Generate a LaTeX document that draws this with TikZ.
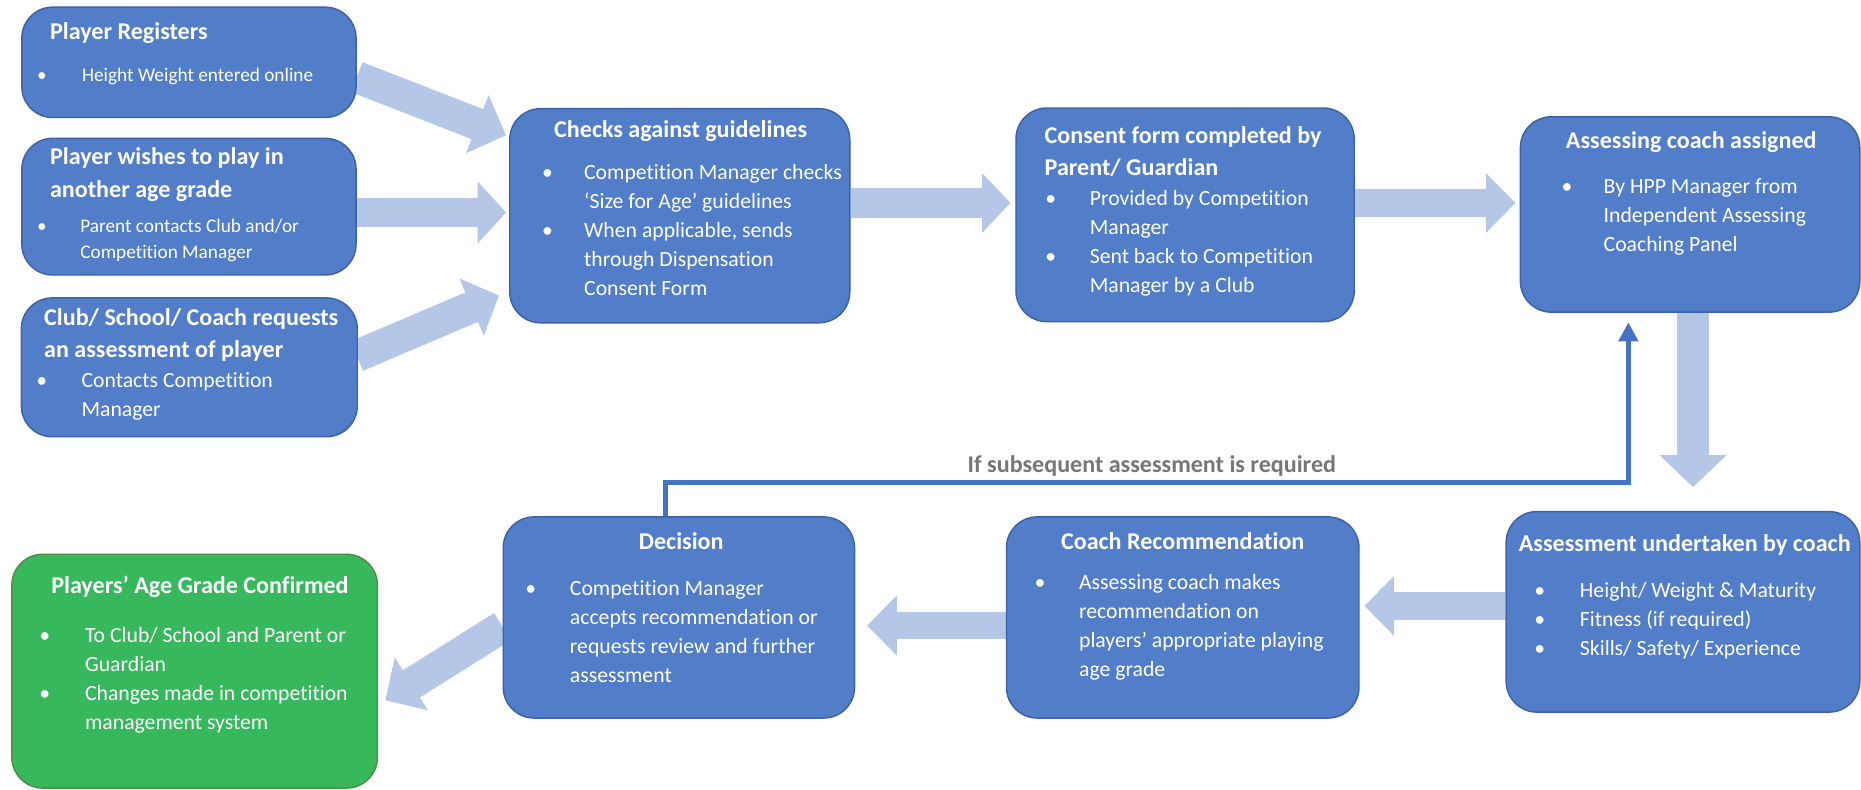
\documentclass[tikz,border=0pt]{standalone}
\usepackage{fontspec}
\setmainfont{Carlito}[RawFeature=-liga]
\usetikzlibrary{arrows.meta,calc,backgrounds}
\definecolor{boxblue}{RGB}{82,125,200}
\definecolor{boxedge}{RGB}{60,98,165}
\definecolor{boxgreen}{RGB}{55,184,93}
\definecolor{greenedge}{RGB}{80,140,70}
\definecolor{arrowblue}{RGB}{180,199,231}
\definecolor{fbblue}{RGB}{68,114,196}
\definecolor{lblgray}{RGB}{118,118,118}
\newcommand{\blist}[2]{\begin{tabular}[t]{@{}p{#1}@{}l@{}}#2\end{tabular}}
\newcommand{\tlist}[1]{\begin{tabular}[t]{@{}l@{}}#1\end{tabular}}
\begin{document}
\begin{tikzpicture}[x=1pt,y=-1pt,
  box/.style={draw=boxedge, line width=1.2pt, fill=boxblue, rounded corners=26pt, inner sep=0pt},
  gbox/.style={box, draw=greenedge, fill=boxgreen},
  ttl/.style={text=white, inner sep=0pt, font=\bfseries\fontsize{20.3}{27.6}\selectfont},
  bod/.style={text=white, inner sep=0pt, font=\fontsize{18.3}{24.5}\selectfont},
  bods/.style={text=white, inner sep=0pt, font=\fontsize{16.25}{22}\selectfont},
  barrow/.style={draw=arrowblue, line width=24pt},
  fb/.style={draw=fbblue, line width=4pt, -{Triangle[length=16pt,width=16pt]}},
]
\useasboundingbox (0,0) rectangle (1568,664.8);

% boxes
\node[box, minimum width=281.6pt, minimum height=93pt] (pr) at (159.2,52.5) {};
\node[box, minimum width=281.6pt, minimum height=115.2pt] (pw) at (159.2,174.1) {};
\node[box, minimum width=283pt, minimum height=117pt] (club) at (159.5,309.5) {};
\node[box, minimum width=286.5pt, minimum height=180.5pt] (chk) at (572.75,181.75) {};
\node[box, minimum width=285pt, minimum height=180pt] (con) at (998.5,181) {};
\node[box, minimum width=286pt, minimum height=164.6pt] (asg) at (1424,180.7) {};
\node[box, minimum width=298pt, minimum height=169pt] (asm) at (1418,515.5) {};
\node[box, minimum width=297pt, minimum height=169.5pt] (rec) at (996.5,520.25) {};
\node[box, minimum width=296pt, minimum height=169.5pt] (dec) at (572,520.25) {};
\node[gbox, minimum width=308pt, minimum height=197pt] (grn) at (164,565.5) {};

% titles
\node[ttl, anchor=base west] (prt) at (42,33) {Player Registers};
\node[ttl, anchor=base west] (pwt) at (42,139) {\tlist{Player wishes to play in\\another age grade}};
\node[ttl, anchor=base west] (clubt) at (37,274) {\tlist{Club/ School/ Coach requests\\an assessment of player}};
\node[ttl, anchor=base] (chkt) at (573.5,116) {Checks against guidelines};
\node[ttl, anchor=base west] (cont) at (880,120.6) {\tlist{Consent form completed by\\Parent/ Guardian}};
\node[ttl, anchor=base] (asgt) at (1425,125.4) {Assessing coach assigned};
\node[ttl, anchor=base] (asmt) at (1419.5,465) {Assessment undertaken by coach};
\node[ttl, anchor=base] (rect) at (996.5,462.6) {Coach Recommendation};
\node[ttl, anchor=base] (dect) at (574,462.6) {Decision};
\node[ttl, anchor=base] (grnt) at (168.5,500.3) {Players’ Age Grade Confirmed};

% bodies
\node[bods, anchor=base west] (prb) at (31,69) {\blist{38pt}{\textbullet & Height Weight entered online}};
\node[bods, anchor=base west] (pwb) at (31,196) {\blist{36.5pt}{\textbullet & Parent contacts Club and/or\\ & Competition Manager}};
\node[bod, anchor=base west] (clubb) at (30.5,326.5) {\blist{38pt}{\textbullet & Contacts Competition\\ & Manager}};
\node[bod, anchor=base west] (chkb) at (456.5,151) {\blist{35.5pt}{\textbullet & Competition Manager checks\\ & ‘Size for Age’ guidelines\\ \textbullet & When applicable, sends\\ & through Dispensation\\ & Consent Form}};
\node[bod, anchor=base west] (conb) at (880.5,173) {\blist{37.5pt}{\textbullet & Provided by Competition\\ & Manager\\ \textbullet & Sent back to Competition\\ & Manager by a Club}};
\node[bod, anchor=base west] (asgb) at (1315.5,163) {\blist{35.5pt}{\textbullet & By HPP Manager from\\ & Independent Assessing\\ & Coaching Panel}};
\node[bod, anchor=base west] (asmb) at (1292.5,503.5) {\blist{38.5pt}{\textbullet & Height/ Weight \& Maturity\\ \textbullet & Fitness (if required)\\ \textbullet & Skills/ Safety/ Experience}};
\node[bod, anchor=base west] (recb) at (871.5,496.5) {\blist{37.5pt}{\textbullet & Assessing coach makes\\ & recommendation on\\ & players’ appropriate playing\\ & age grade}};
\node[bod, anchor=base west] (decb) at (442.5,501.5) {\blist{37.5pt}{\textbullet & Competition Manager\\ & accepts recommendation or\\ & requests review and further\\ & assessment}};
\node[bod, anchor=base west] (grnb) at (33,541) {\blist{38.5pt}{\textbullet & To Club/ School and Parent or\\ & Guardian\\ \textbullet & Changes made in competition\\ & management system}};

% block arrows
\begin{scope}[on background layer]
\draw[barrow, line width=27pt, -{Triangle[length=26pt,width=51pt]}] ($(pr.east)+(0,12.5)$) -- ($(chk.west)+(-2.5,-67.75)$);
\draw[barrow, line width=24pt, -{Triangle[length=24pt,width=51pt]}] ($(pw.east)+(0,4.9)$) -- ($(chk.west)+(-2.5,-2.75)$);
\draw[barrow, line width=27pt, -{Triangle[length=25pt,width=51pt]}] ($(club.east)+(-1,-9.5)$) -- ($(chk.west)+(-8.5,67.25)$);
\draw[barrow, line width=24.5pt, -{Triangle[length=24pt,width=49pt]}] ($(chk.east)+(0,-10.75)$) -- ($(con.west)+(-4,-10)$);
\draw[barrow, line width=24pt, -{Triangle[length=25pt,width=49pt]}] ($(con.east)+(0,-10)$) -- ($(asg.west)+(-3.5,-9.7)$);
\draw[barrow, line width=27pt, -{Triangle[length=27pt,width=55pt]}] ($(asg.south)+(2.5,0)$) -- ($(asm.north)+(8.5,-20)$);
\draw[barrow, line width=23pt, -{Triangle[length=25pt,width=49pt]}] ($(asm.west)+(0,-5)$) -- ($(rec.east)+(4,-9.75)$);
\draw[barrow, line width=23pt, -{Triangle[length=25pt,width=49pt]}] ($(rec.west)+(0,6.75)$) -- ($(dec.east)+(10,6.75)$);
\draw[barrow, line width=27pt, -{Triangle[length=26pt,width=51pt]}] ($(dec.west)+(0,7.75)$) -- ($(grn.east)+(6,24.5)$);
\end{scope}

% feedback connector
\draw[fb] ($(dec.north)+(-11,0)$) -- ++(0,-28.5) -| ($(asg.south)+(-52,8)$);
\node[ttl, text=lblgray, anchor=base] (lbl) at (970.5,398) {If subsequent assessment is required};
\end{tikzpicture}
\end{document}
